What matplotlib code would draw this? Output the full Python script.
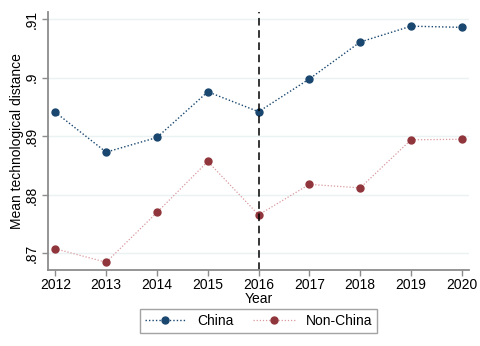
import matplotlib
matplotlib.use("Agg")
import matplotlib.pyplot as plt

years = [2012, 2013, 2014, 2015, 2016, 2017, 2018, 2019, 2020]
china = [0.8941, 0.8873, 0.8898, 0.8976, 0.8942, 0.8998, 0.9061, 0.9088, 0.9086]
non_china = [0.8708, 0.8685, 0.8770, 0.8857, 0.8766, 0.8818, 0.8812, 0.8894, 0.8895]
yticks = [0.87, 0.88, 0.89, 0.90, 0.91]
ytick_labels = [".87", ".88", ".89", ".9", ".91"]
event_year = 2016

NAVY = "#1a476f"
MAROON = "#90353b"

plt.rcParams["font.family"] = ["Liberation Sans", "DejaVu Sans"]

fig = plt.figure(figsize=(4.8, 3.46), dpi=100)
ax = fig.add_axes([0.1, 0.22, 0.877, 0.745])

# gridlines first so they sit behind the lines
ax.set_yticks(yticks)
ax.set_yticklabels(ytick_labels, rotation=90, va="center", fontsize=10)
ax.grid(axis="y", color="#eaf2f3", linewidth=1)
ax.set_axisbelow(True)

ax.plot(years, china, linestyle=(0, (1, 1.5)), color=NAVY, linewidth=1,
        marker="o", markersize=5, markerfacecolor=NAVY, markeredgecolor=NAVY,
        label="China")
ax.plot(years, non_china, linestyle=(0, (1, 1.5)), color="#d99aa0", linewidth=0.9,
        marker="o", markersize=5, markerfacecolor=MAROON, markeredgecolor=MAROON,
        label="Non-China")

ax.axvline(event_year, color="black", linestyle=(0, (5, 3)), linewidth=1.1)

ax.set_xlim(2011.856, 2020.14)
ax.set_ylim(0.8672, 0.9112)
ax.set_xticks(years)
ax.set_xticklabels([str(y) for y in years], fontsize=10)
ax.set_xlabel("Year", fontsize=10, labelpad=0)
ax.set_ylabel("Mean technological distance", fontsize=10, labelpad=0)

for side in ["top", "right"]:
    ax.spines[side].set_visible(False)
for side in ["left", "bottom"]:
    ax.spines[side].set_color("#8c8c8c")
    ax.spines[side].set_linewidth(1.3)
ax.tick_params(axis="both", colors="#8c8c8c", labelcolor="black", length=4, width=1)
ax.tick_params(axis="x", pad=2)
ax.tick_params(axis="y", pad=3)

leg = ax.legend(loc="upper center", bbox_to_anchor=(0.5, -0.152), ncol=2,
                frameon=True, fancybox=False, fontsize=10, handlelength=3.0,
                columnspacing=1.4, borderpad=0.35, handletextpad=0.8,
                borderaxespad=0)
leg.get_frame().set_edgecolor("#8c8c8c")
leg.get_frame().set_linewidth(1)

fig.savefig("out.png", dpi=100, facecolor="white")
